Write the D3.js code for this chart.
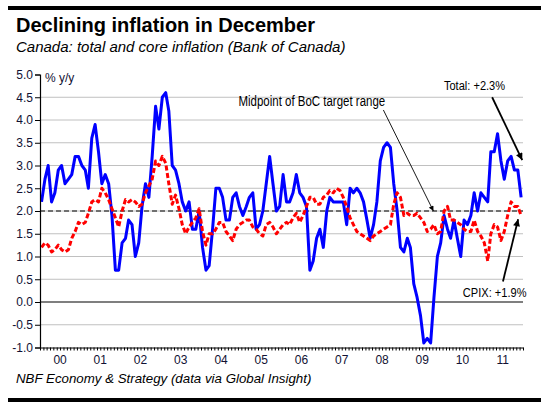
<!DOCTYPE html>
<html><head><meta charset="utf-8">
<script src="https://cdn.jsdelivr.net/npm/d3@7"></script>
<style>
body{margin:0;background:#fff}
svg{display:block}
text{font-family:"Liberation Sans",Arial,Helvetica,sans-serif}
</style>
</head><body>
<svg id="chart" width="541" height="406"></svg>
<script>
// ---------- data ----------
const firstYear = 2000;
const yearLabels = ["00","01","02","03","04","05","06","07","08","09","10","11"];
const yTicks = [-1.0,-0.5,0.0,0.5,1.0,1.5,2.0,2.5,3.0,3.5,4.0,4.5,5.0];
const targetMid = 2.0;

// Total CPI, % y/y, monthly Jan 2000 - Dec 2011
const totalCPI = [
  2.2,2.7,3.0,2.2,2.4,2.9,3.0,2.6,2.7,2.8,3.2,3.2,
  3.0,2.9,2.5,3.6,3.9,3.3,2.6,2.8,2.6,1.9,0.7,0.7,
  1.3,1.4,1.8,1.7,1.0,1.3,2.1,2.6,2.3,3.2,4.3,3.8,
  4.5,4.6,4.2,3.0,2.9,2.6,2.2,2.0,2.2,1.6,1.6,2.0,
  1.2,0.7,0.8,1.6,2.5,2.5,2.3,1.8,1.8,2.3,2.4,2.1,
  1.9,2.1,2.3,2.4,1.6,1.7,2.0,2.6,3.2,2.6,2.0,2.1,
  2.8,2.2,2.2,2.4,2.8,2.4,2.3,2.1,0.7,0.9,1.4,1.6,
  1.2,2.0,2.3,2.2,2.2,2.2,2.2,1.7,2.5,2.4,2.5,2.4,
  2.2,1.8,1.4,1.7,2.2,3.1,3.4,3.5,3.4,2.6,2.0,1.2,
  1.1,1.4,1.2,0.4,0.1,-0.3,-0.9,-0.8,-0.9,0.1,1.0,1.3,
  1.9,1.6,1.4,1.8,1.4,1.0,1.8,1.7,1.9,2.4,2.0,2.4,
  2.3,2.2,3.3,3.3,3.7,3.1,2.7,3.1,3.2,2.9,2.9,2.3
];
// Core CPIX, % y/y, monthly Jan 2000 - Dec 2011
const coreCPIX = [
  1.2,1.3,1.25,1.1,1.15,1.25,1.15,1.1,1.15,1.4,1.55,1.75,
  1.7,1.75,1.95,2.2,2.25,2.2,2.5,2.4,2.25,2.05,1.85,1.65,
  2.0,2.25,2.2,2.25,2.2,2.1,2.15,2.4,2.55,2.7,3.1,3.0,
  3.2,3.05,2.6,2.15,2.35,2.05,1.7,1.5,1.65,1.75,1.85,2.05,
  1.55,1.25,1.5,1.5,1.6,1.75,1.75,1.55,1.45,1.35,1.6,1.7,
  1.75,1.8,1.8,1.65,1.6,1.5,1.45,1.7,1.75,1.65,1.5,1.6,
  1.7,1.75,1.7,1.85,1.95,1.75,1.9,2.1,2.3,2.3,2.15,2.15,
  2.3,2.35,2.45,2.4,2.5,2.45,2.3,2.1,1.85,1.7,1.55,1.5,
  1.45,1.4,1.35,1.45,1.5,1.55,1.6,1.65,1.7,2.15,2.4,2.3,
  1.9,1.95,1.9,1.9,1.95,1.85,1.75,1.55,1.6,1.7,1.5,1.55,
  2.0,2.1,1.8,1.8,1.75,1.7,1.6,1.55,1.55,1.8,1.55,1.45,
  1.3,0.9,1.5,1.7,1.65,1.35,1.55,1.9,2.2,2.1,2.1,1.9
];
const titleText = "Declining inflation in December";
const subtitleText = "Canada: total and core inflation (Bank of Canada)";
const sourceText = "NBF Economy & Strategy (data via Global Insight)";
const unitText = "% y/y";
// annotations: [year, monthIndex(0-11, fractional), value]
const noteMid = {text:"Midpoint of BoC target range", size:14, at:[2004,11.2,4.3], from:[2008,6.4,4.22], to:[2009,9.3,2.0]};
const noteTotal = {text:"Total: +2.3%", size:13.5, at:[2010,9.6,4.66], from:[2011,2.9,4.5], to:[2011,11.8,3.12]};
const noteCore = {text:"CPIX: +1.9%", size:13.5, at:[2011,3.6,0.11], from:[2011,6.1,0.45], to:[2011,10.6,1.82]};

// ---------- chart ----------
const svg = d3.select("#chart");
const W = 541, H = 406;
const m = {left:40, right:18, top:74.5, bottom:58.5};

const months = totalCPI.map((_, i) => new Date(firstYear, i, 15));
const x = d3.scaleTime()
  .domain([new Date(firstYear,0,1), new Date(firstYear + yearLabels.length,0,1)])
  .range([m.left, W - m.right]);
const y = d3.scaleLinear().domain([-1,5]).range([H - m.bottom, m.top]);
const dt = (yr, mo) => new Date(yr, Math.floor(mo), 1 + (mo % 1) * 30);

// detect a narrow font; emulate with horizontal scaling if missing
function measure(fam) {
  const t = svg.append("text").attr("font-size", 20).style("font-family", fam).text("Midpoint of BoC target range");
  const w = t.node().getComputedTextLength(); t.remove(); return w;
}
const wNarrow = measure('"Liberation Sans Narrow","Arial Narrow"');
const wReg = measure('"Liberation Sans",Arial');
const hasNarrow = wNarrow / wReg < 0.92;
const narrowFam = hasNarrow ? '"Liberation Sans Narrow","Arial Narrow",sans-serif' : '"Liberation Sans",Arial,sans-serif';
const narrowScale = hasNarrow ? 1 : 0.82;

// top & bottom rules
svg.append("rect").attr("x",8).attr("y",6).attr("width",W-8).attr("height",4).attr("fill","#000");
svg.append("rect").attr("x",8).attr("y",398).attr("width",W-8).attr("height",4).attr("fill","#000");

svg.append("text").attr("x",16).attr("y",32).attr("font-size",20).attr("font-weight","bold").attr("fill","#000").text(titleText);
svg.append("text").attr("x",16).attr("y",52).attr("font-size",15).attr("font-style","italic").attr("fill","#000").text(subtitleText);
svg.append("text").attr("x",16).attr("y",383).attr("font-size",13.3).attr("font-style","italic").attr("fill","#000").text(sourceText);

// gridlines
svg.append("g").selectAll("line").data(yTicks.filter(d => d !== 0 && d !== -1 && d !== 5)).join("line")
  .attr("x1", m.left).attr("x2", W - m.right)
  .attr("y1", d => y(d)).attr("y2", d => y(d))
  .attr("stroke", "#c0c0c0").attr("stroke-width", 1);
// zero line
svg.append("line").attr("x1", m.left).attr("x2", W - m.right).attr("y1", y(0)).attr("y2", y(0))
  .attr("stroke", "#000").attr("stroke-width", 1.2);
// target midpoint dashed
svg.append("line").attr("x1", m.left).attr("x2", W - m.right).attr("y1", y(targetMid)).attr("y2", y(targetMid))
  .attr("stroke", "#000").attr("stroke-width", 1.2).attr("stroke-dasharray", "5,3");

// series
const line = d3.line().x((d, i) => x(months[i])).y(d => y(d));
svg.append("path").datum(totalCPI).attr("d", line).attr("fill","none")
  .attr("stroke","#0000ff").attr("stroke-width",3).attr("stroke-linejoin","round");
svg.append("path").datum(coreCPIX).attr("d", line).attr("fill","none")
  .attr("stroke","#ff0000").attr("stroke-width",3).attr("stroke-dasharray","5,2.5").attr("stroke-linejoin","round");

// axes
const yAxis = d3.axisLeft(y).tickValues(yTicks).tickFormat(d => d.toFixed(1)).tickSize(5).tickPadding(2);
const gy = svg.append("g").attr("transform", `translate(${m.left},0)`).call(yAxis);
gy.select(".domain").attr("stroke","#000").attr("stroke-width",1.2);
gy.selectAll(".tick line").attr("stroke","#000");
gy.selectAll("text").attr("font-size",12).attr("fill","#111133").style("font-family",'"Liberation Sans",Arial,sans-serif');

const xAxis = d3.axisBottom(x).ticks(d3.timeMonth.every(1)).tickFormat("").tickSize(3).tickSizeOuter(0);
const gx = svg.append("g").attr("transform", `translate(0,${y(-1)})`).call(xAxis);
gx.select(".domain").attr("stroke","#000").attr("stroke-width",1.2);
gx.selectAll(".tick line").attr("stroke","#000");
svg.append("g").selectAll("text").data(yearLabels).join("text")
  .attr("x", (d, i) => x(new Date(firstYear + i, 6, 1)))
  .attr("y", y(-1) + 16)
  .attr("text-anchor","middle").attr("font-size",12).attr("fill","#111133").text(d => d);

svg.append("text").attr("x", m.left + 5).attr("y", y(5) + 7).attr("font-size",12).attr("fill","#111133").text(unitText);

// arrow markers
const defs = svg.append("defs");
defs.append("marker").attr("id","ahThin").attr("viewBox","0 0 10 10").attr("refX",10).attr("refY",5)
  .attr("markerWidth",7).attr("markerHeight",5).attr("markerUnits","userSpaceOnUse").attr("orient","auto")
  .append("path").attr("d","M0,0L10,5L0,10Z").attr("fill","#000");
defs.append("marker").attr("id","ahThick").attr("viewBox","0 0 10 10").attr("refX",10).attr("refY",5)
  .attr("markerWidth",9).attr("markerHeight",7).attr("markerUnits","userSpaceOnUse").attr("orient","auto")
  .append("path").attr("d","M0,0L10,5L0,10Z").attr("fill","#000");

function note(n, anchor, thick) {
  svg.append("line")
    .attr("x1", x(dt(n.from[0], n.from[1]))).attr("y1", y(n.from[2]))
    .attr("x2", x(dt(n.to[0], n.to[1]))).attr("y2", y(n.to[2]))
    .attr("stroke","#000").attr("stroke-width", thick ? 1.8 : 0.9)
    .attr("marker-end", `url(#${thick ? "ahThick" : "ahThin"})`);
  svg.append("g")
    .attr("transform", `translate(${x(dt(n.at[0], n.at[1]))},${y(n.at[2])}) scale(${narrowScale},1)`)
    .append("text").attr("x",0).attr("y",0)
    .attr("text-anchor", anchor).attr("font-size", n.size).attr("fill","#000")
    .style("font-family", narrowFam).text(n.text);
}
note(noteMid, "start", false);
note(noteTotal, "middle", true);
note(noteCore, "middle", true);
</script>
</body></html>
